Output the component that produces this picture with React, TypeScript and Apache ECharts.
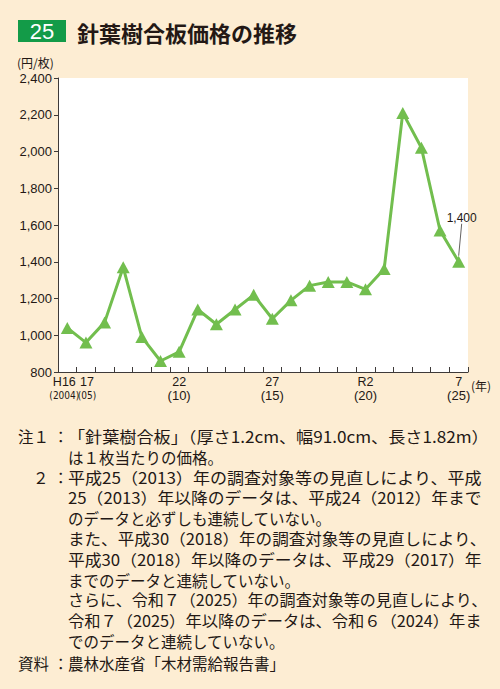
import React, { useEffect, useRef } from "react";
import * as echarts from "echarts";

const categories = ["H16", "17", "18", "19", "20", "21", "22", "23", "24", "25", "26", "27", "28", "29", "30", "R1", "R2", "3", "4", "5", "6", "7"];
const westernYears = ["2004", "05", "06", "07", "08", "09", "10", "11", "12", "13", "14", "15", "16", "17", "18", "19", "20", "21", "22", "23", "24", "25"];
const shownLabelIndex = [0, 1, 6, 11, 16, 21];
const prices = [1040, 960, 1070, 1370, 990, 860, 910, 1140, 1060, 1140, 1220, 1090, 1190, 1270, 1290, 1290, 1250, 1360, 2210, 2020, 1570, 1400];
const yTicks = { min: 800, max: 2400, interval: 200 };

const titleNumber = "25";
const titleText = "針葉樹合板価格の推移";
const unitY = "(円/枚)";
const unitX = "(年)";
const annotatedIndex = 21;

const noteLines = [
  "「針葉樹合板」（厚さ1.2cm、幅91.0cm、長さ1.82m）",
  "は１枚当たりの価格。",
  "平成25（2013）年の調査対象等の見直しにより、平成",
  "25（2013）年以降のデータは、平成24（2012）年まで",
  "のデータと必ずしも連続していない。",
  "また、平成30（2018）年の調査対象等の見直しにより、",
  "平成30（2018）年以降のデータは、平成29（2017）年",
  "までのデータと連続していない。",
  "さらに、令和７（2025）年の調査対象等の見直しにより、",
  "令和７（2025）年以降のデータは、令和６（2024）年ま",
  "でのデータと連続していない。",
  "農林水産省「木材需給報告書」",
];
// right edge each justified line is stretched to (null = natural width)
const noteRightEdge = [489, null, 482, 482, null, 487, 482, null, 488, 482, null, null];
const noteHeads: [number, string][] = [
  [0, "注１"],
  [2, "２"],
  [11, "資料"],
];

const BG = "#FDEDD3";
const GREEN = "#72BE4E";
const INK = "#231815";
const AXIS = "#3E3A39";
const JP = "'Noto Sans CJK JP', 'Noto Sans', sans-serif";
const NUM = "'Liberation Sans', Arial, sans-serif";
const NARROW = "'Liberation Sans Narrow', 'DejaVu Sans Condensed', sans-serif";
const NOTE_FONT = `15.5px ${JP}`;

function measure(text: string, font: string): number {
  const ctx = document.createElement("canvas").getContext("2d");
  if (!ctx) return 0;
  ctx.font = font;
  return ctx.measureText(text).width;
}

export default function App() {
  const ref = useRef<HTMLDivElement>(null);

  useEffect(() => {
    if (!ref.current) return;
    const chart = echarts.init(ref.current, undefined, { renderer: "svg" });

    const bodyX = 68;
    const lineY = (i: number) => (i === 11 ? 663 : 436 + i * 20.5);
    const graphics: any[] = [
      { type: "rect", shape: { x: 18, y: 20, width: 48, height: 22 }, style: { fill: "#139B48" } },
      {
        type: "text",
        x: 42,
        y: 31.5,
        style: { text: titleNumber, fill: "#fff", font: `22px ${NUM}`, align: "center", verticalAlign: "middle" },
      },
      {
        type: "text",
        x: 77,
        y: 31.5,
        style: { text: titleText, fill: INK, font: `bold 22px ${JP}`, verticalAlign: "middle" },
      },
      {
        type: "text",
        x: 17,
        y: 62,
        style: { text: unitY, fill: INK, font: `12px ${JP}`, verticalAlign: "middle" },
      },
      {
        type: "text",
        x: 471,
        y: 385,
        style: { text: unitX, fill: INK, font: `12px ${JP}`, verticalAlign: "middle" },
      },
    ];
    noteLines.forEach((t, i) => {
      const edge = noteRightEdge[i];
      let sx = 1;
      if (edge) {
        const w = measure(t, NOTE_FONT);
        if (w > 0) sx = Math.min(Math.max((edge - bodyX) / w, 0.9), 1.15);
      }
      graphics.push({
        type: "text",
        x: bodyX,
        y: lineY(i),
        scaleX: sx,
        style: { text: t, fill: INK, font: NOTE_FONT, verticalAlign: "middle" },
      });
    });
    noteHeads.forEach(([i, t]) => {
      graphics.push({
        type: "text",
        x: t === "２" ? 33 : 18,
        y: lineY(i),
        style: { text: t, fill: INK, font: NOTE_FONT, verticalAlign: "middle" },
      });
      graphics.push({
        type: "text",
        x: 53,
        y: lineY(i),
        style: { text: "：", fill: INK, font: NOTE_FONT, verticalAlign: "middle" },
      });
    });

    const option: any = {
      animation: false,
      backgroundColor: BG,
      grid: {
        left: 58,
        top: 78,
        width: 410,
        height: 294,
        show: true,
        backgroundColor: "#fff",
        borderWidth: 0,
      },
      xAxis: {
        type: "category",
        data: categories,
        boundaryGap: true,
        axisLine: { lineStyle: { color: AXIS, width: 1 } },
        axisTick: { show: true, inside: true, length: 5, interval: 0, lineStyle: { color: AXIS } },
        axisLabel: {
          interval: 0,
          margin: 3,
          color: INK,
          formatter: (v: string, i: number) => {
            if (!shownLabelIndex.includes(i)) return "";
            if (i === 0) return `{a0|${v}}\n{s0|(${westernYears[i]})}`;
            if (i === 1) return `{a1|${v}}\n{s1|(${westernYears[i]})}`;
            return `{a|${v}}\n{b|(${westernYears[i]})}`;
          },
          rich: {
            a: { fontSize: 12.5, fontFamily: NUM, color: INK, lineHeight: 13.5 },
            a0: { fontSize: 12.5, fontFamily: NUM, color: INK, lineHeight: 13.5, padding: [0, 6, 0, 0] },
            a1: { fontSize: 12.5, fontFamily: NUM, color: INK, lineHeight: 13.5, padding: [0, 0, 0, 2] },
            b: { fontSize: 13, fontFamily: NUM, color: INK, lineHeight: 13.5 },
            s0: { fontSize: 10, fontFamily: NARROW, color: INK, lineHeight: 13.5, padding: [0, 6, 0, 0] },
            s1: { fontSize: 10, fontFamily: NARROW, color: INK, lineHeight: 13.5, padding: [0, 0, 0, 2] },
          },
        },
        splitLine: { show: false },
      },
      yAxis: {
        type: "value",
        min: yTicks.min,
        max: yTicks.max,
        interval: yTicks.interval,
        axisLine: { show: true, lineStyle: { color: AXIS, width: 1 } },
        axisTick: { show: true, length: 4, lineStyle: { color: AXIS } },
        axisLabel: {
          margin: 6,
          color: INK,
          fontSize: 13,
          fontFamily: NUM,
          formatter: (v: number) => v.toLocaleString("en-US"),
        },
        splitLine: { show: false },
      },
      series: [
        {
          type: "line",
          data: prices.map((v, i) =>
            i === annotatedIndex
              ? {
                  value: v,
                  label: {
                    show: true,
                    position: "top",
                    distance: 4,
                    formatter: (p: any) => Number(p.value).toLocaleString("en-US"),
                    color: INK,
                    fontSize: 12,
                    fontFamily: NUM,
                  },
                  labelLine: { show: true, lineStyle: { color: AXIS, width: 0.8 } },
                }
              : v
          ),
          symbol: "triangle",
          symbolSize: [13, 12],
          lineStyle: { color: GREEN, width: 3 },
          itemStyle: { color: GREEN },
          labelLine: { show: false },
          labelLayout: (p: any) => (p.dataIndex === annotatedIndex ? { dx: 3, dy: -28 } : {}),
        },
      ],
      graphic: graphics,
    };
    chart.setOption(option);
    return () => chart.dispose();
  }, []);

  return (
    <div
      ref={ref}
      style={{ position: "absolute", left: 0, top: 0, width: 500, height: 689 }}
    />
  );
}
